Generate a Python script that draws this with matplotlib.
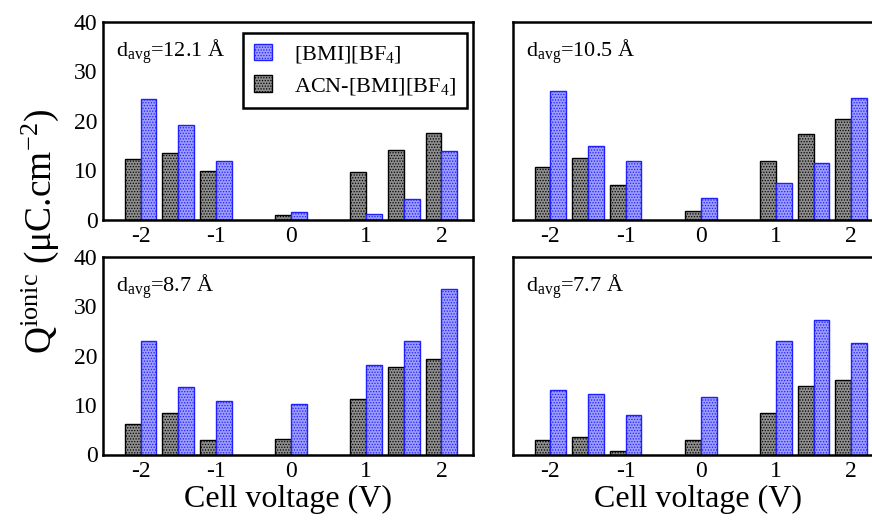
import matplotlib
matplotlib.use("Agg")
import matplotlib.pyplot as plt
import numpy as np

plt.rcParams["font.family"] = ["Liberation Serif", "DejaVu Serif"]
plt.rcParams["mathtext.fontset"] = "custom"
plt.rcParams["mathtext.rm"] = "Liberation Serif"
plt.rcParams["mathtext.it"] = "Liberation Serif:italic"
plt.rcParams["hatch.linewidth"] = 0.6

# cell voltages of the bar groups
voltages = [-2, -1.5, -1, 0, 1, 1.5, 2]

# Q ionic (uC/cm2) per panel: pure IL and ACN mixture
d_labels = ["12.1", "10.5", "8.7", "7.7"]
bmi_vals = [
    [24.4, 19.2, 11.9, 1.5, 1.2, 4.1, 13.8],
    [26.1, 14.8, 11.9, 4.3, 7.4, 11.4, 24.7],
    [22.9, 13.6, 10.8, 10.3, 18.2, 22.9, 33.5],
    [13.1, 12.2, 7.9, 11.6, 22.9, 27.3, 22.5],
]
acn_vals = [
    [12.2, 13.4, 9.8, 0.95, 9.6, 14.0, 17.6],
    [10.7, 12.5, 6.9, 1.75, 11.9, 17.4, 20.3],
    [6.25, 8.4, 2.85, 3.1, 11.2, 17.8, 19.4],
    [2.86, 3.6, 0.75, 2.86, 8.4, 13.9, 15.0],
]

W, H = 872, 520
fig = plt.figure(figsize=(W / 100, H / 100), dpi=100)

# axes boxes in pixels: left, top, right, bottom
boxes = [
    (103, 22, 473, 219.5),
    (512.7, 22, 882.7, 219.5),
    (103, 257, 473, 454.5),
    (512.7, 257, 882.7, 454.5),
]

w = 0.21
x = np.array(voltages)
for i, (l, t, r, b) in enumerate(boxes):
    ax = fig.add_axes([l / W, 1 - b / H, (r - l) / W, (b - t) / H])
    ax.bar(x - w / 2, acn_vals[i], w, facecolor="#8e8e8e", edgecolor="black",
           hatch="......", linewidth=1.0, label="ACN-[BMI][BF$_4$]")
    ax.bar(x + w / 2, bmi_vals[i], w, facecolor="#9c9cff", edgecolor="#2020ff",
           hatch="......", linewidth=1.0, label="[BMI][BF$_4$]")
    ax.set_xlim(-2.5, 2.42)
    ax.set_ylim(0, 40)
    ax.set_xticks([-2, -1, 0, 1, 2])
    ax.set_xticklabels(["-2", "-1", "0", "1", "2"])
    ax.set_yticks([0, 10, 20, 30, 40])
    ax.tick_params(axis="x", length=0, labelsize=17, pad=5)
    ax.tick_params(axis="y", length=0, labelsize=17, pad=4)
    if i % 2 == 1:
        ax.set_yticklabels([])
    for s in ax.spines.values():
        s.set_linewidth(1.8)
    ax.text(0.035, 0.85, r"d$_{\mathrm{avg}}$=" + d_labels[i] + " Å",
            transform=ax.transAxes, fontsize=16, va="center", ha="left")
    if i >= 2:
        ax.set_xlabel("Cell voltage (V)", fontsize=23, labelpad=2)
    if i == 0:
        h, lab = ax.get_legend_handles_labels()
        leg = ax.legend(h[::-1], lab[::-1], loc="upper right", fontsize=16,
                        frameon=True, fancybox=False, edgecolor="black",
                        framealpha=1, handlelength=0.8, handleheight=0.75,
                        handletextpad=1.0, borderpad=0.5, labelspacing=0.45,
                        borderaxespad=0, bbox_to_anchor=(0.985, 0.945))
        leg.get_frame().set_linewidth(1.8)

fig.text(40 / W, 1 - 232 / H, r"Q$^{\mathrm{ionic}}$ (μC.cm$^{-2}$)",
         rotation=90, fontsize=27, ha="center", va="center")

fig.savefig("out.png", dpi=100)
